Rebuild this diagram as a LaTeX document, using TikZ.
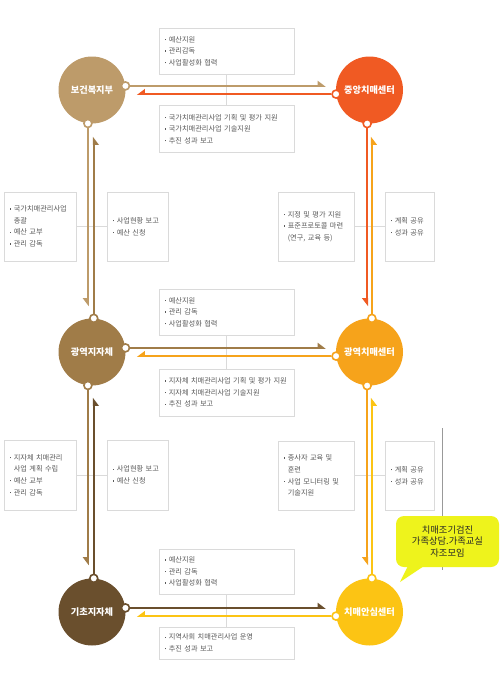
\documentclass[tikz,border=0pt]{standalone}
\usepackage{fontspec}
\setmainfont{Noto Sans CJK KR}
\usetikzlibrary{arrows.meta}
\definecolor{bokcol}{RGB}{189,155,106}
\definecolor{jungcol}{RGB}{240,90,35}
\definecolor{gwangjicol}{RGB}{160,124,72}
\definecolor{gwangchicol}{RGB}{246,163,27}
\definecolor{gichocol}{RGB}{106,79,45}
\definecolor{anshimcol}{RGB}{252,196,20}
\definecolor{boxcol}{RGB}{218,218,218}
\definecolor{txtcol}{RGB}{90,90,90}
\definecolor{memocol}{RGB}{238,243,28}
\newcommand\dotmark{\raisebox{0.28em}{\rule{1.3pt}{1.3pt}}\hspace{2.5pt}}
\newcommand\indentmark{\hspace{3.8pt}}
\begin{document}
\begin{tikzpicture}[x=1pt, y=-1pt,
    org/.style={circle, fill=#1, minimum size=67pt, inner sep=0pt, text=white,
      font=\fontsize{9.2}{11}\selectfont\bfseries},
    joint/.style={circle, fill=white, draw=#1, line width=1.6pt, minimum size=8pt, inner sep=0pt},
    infobox/.style 2 args={draw=boxcol, line width=0.7pt, fill=white, text=txtcol,
      align=left, inner xsep=6pt, inner ysep=0pt, text width=#1, minimum height=#2,
      font=\fontsize{7.2}{11.6}\selectfont},
    flow/.style={line width=2.2pt, draw=#1, -{Triangle[left, length=7pt, width=10pt]}},
    flowr/.style={line width=2.2pt, draw=#1, -{Triangle[right, length=7pt, width=10pt]}},
    link/.style={draw=boxcol, line width=0.7pt},
    memo/.style={fill=memocol, rounded corners=8pt, minimum width=103pt, minimum height=51pt,
      align=center, text=black!85, font=\fontsize{9.3}{11.5}\selectfont}]
    \fill[white] (0,0) rectangle (500,691);
    \useasboundingbox (0,0) rectangle (500,691);
    \node[org=bokcol] (bokji) at (92,90) {보건복지부};
    \node[org=jungcol] (jungang) at (369.5,90) {중앙치매센터};
    \node[org=gwangjicol] (gwangji) at (92,352) {광역지자체};
    \node[org=gwangchicol] (gwangchi) at (369.5,352) {광역치매센터};
    \node[org=gichocol] (gicho) at (92,612) {기초지자체};
    \node[org=anshimcol] (anshim) at (369.5,612) {치매안심센터};
    \node[infobox={123pt}{46pt}] (topup) at (226.5,51) {\dotmark 예산지원\\\dotmark 관리감독\\\dotmark 사업활성화 협력};
    \node[infobox={123pt}{47pt}] (topdown) at (226.5,129) {\dotmark 국가치매관리사업 기획 및 평가 지원\\\dotmark 국가치매관리사업 기술지원\\\dotmark 추진 성과 보고};
    \node[infobox={123pt}{46pt}] (midup) at (226.5,312) {\dotmark 예산지원\\\dotmark 관리 감독\\\dotmark 사업활성화 협력};
    \node[infobox={123pt}{47pt}] (middown) at (226.5,392.5) {\dotmark 지자체 치매관리사업 기획 및 평가 지원\\\dotmark 지자체 치매관리사업 기술지원\\\dotmark 추진 성과 보고};
    \node[infobox={123pt}{45pt}] (lowup) at (226.5,571.5) {\dotmark 예산지원\\\dotmark 관리 감독\\\dotmark 사업활성화 협력};
    \node[infobox={123pt}{32pt}] (lowdown) at (226.5,643) {\dotmark 지역사회 치매관리사업 운영\\\dotmark 추진 성과 보고};
    \node[infobox={60pt}{69pt}] (leftaout) at (40,226.5) {\dotmark 국가치매관리사업\\\indentmark 총괄\\\dotmark 예산 교부\\\dotmark 관리 감독};
    \node[infobox={49pt}{69pt}] (leftain) at (137.5,226.5) {\dotmark 사업현황 보고\\\dotmark 예산 신청};
    \node[infobox={60pt}{70pt}] (leftbout) at (40,475) {\dotmark 지자체 치매관리\\\indentmark 사업 계획 수립\\\dotmark 예산 교부\\\dotmark 관리 감독};
    \node[infobox={49pt}{70pt}] (leftbin) at (137.5,475) {\dotmark 사업현황 보고\\\dotmark 예산 신청};
    \node[infobox={64pt}{69pt}] (rightain) at (316,226.5) {\dotmark 지정 및 평가 지원\\\dotmark 표준프로토콜 마련\\\indentmark (연구, 교육 등)};
    \node[infobox={37pt}{69pt}] (rightaout) at (409.5,226.5) {\dotmark 계획 공유\\\dotmark 성과 공유};
    \node[infobox={64pt}{69pt}] (rightbin) at (316,475.5) {\dotmark 종사자 교육 및\\\indentmark 훈련\\\dotmark 사업 모니터링 및\\\indentmark 기술지원};
    \node[infobox={37pt}{69pt}] (rightbout) at (409.5,475.5) {\dotmark 계획 공유\\\dotmark 성과 공유};
    \draw[link] (topup) -- (topdown);
    \draw[link] (midup) -- (middown);
    \draw[link] (lowup) -- (lowdown);
    \draw[link] (leftaout) -- (leftain);
    \draw[link] (leftbout) -- (leftbin);
    \draw[link] (rightain) -- (rightaout);
    \draw[link] (rightbin) -- (rightbout);
    \node[joint=bokcol] (bokE) at (bokji.7) {};
    \node[joint=bokcol] (bokS) at (bokji.263) {};
    \node[joint=jungcol] (jungW) at (jungang.187) {};
    \node[joint=jungcol] (jungS) at (jungang.266) {};
    \node[joint=gwangjicol] (gjN) at (gwangji.87) {};
    \node[joint=gwangjicol] (gjE) at (gwangji.7) {};
    \node[joint=gwangjicol] (gjS) at (gwangji.263) {};
    \node[joint=gwangchicol] (gcN) at (gwangchi.86) {};
    \node[joint=gwangchicol] (gcW) at (gwangchi.187) {};
    \node[joint=gwangchicol] (gcS) at (gwangchi.266) {};
    \node[joint=gichocol] (giN) at (gicho.87) {};
    \node[joint=gichocol] (giE) at (gicho.7) {};
    \node[joint=anshimcol] (anN) at (anshim.86) {};
    \node[joint=anshimcol] (anW) at (anshim.187) {};
    \draw[flow=bokcol, shorten >=10pt] (bokE) -- (bokE -| jungang.west);
    \draw[flowr=jungcol, shorten >=11pt] (jungW) -- (jungW -| bokji.east);
    \draw[flowr=bokcol, shorten >=12pt] (bokS) -- (bokS |- gwangji.north);
    \draw[flowr=gwangjicol, shorten >=13pt] (gjN) -- (gjN |- bokji.south);
    \draw[flowr=jungcol, shorten >=12pt] (jungS) -- (jungS |- gwangchi.north);
    \draw[flowr=gwangchicol, shorten >=13pt] (gcN) -- (gcN |- jungang.south);
    \draw[flow=gwangjicol, shorten >=10pt] (gjE) -- (gjE -| gwangchi.west);
    \draw[flowr=gwangchicol, shorten >=11pt] (gcW) -- (gcW -| gwangji.east);
    \draw[flowr=gwangjicol, shorten >=13pt] (gjS) -- (gjS |- gicho.north);
    \draw[flowr=gichocol, shorten >=12pt] (giN) -- (giN |- gwangji.south);
    \draw[flowr=gwangchicol, shorten >=13pt] (gcS) -- (gcS |- anshim.north);
    \draw[flowr=anshimcol, shorten >=12pt] (anN) -- (anN |- gwangchi.south);
    \draw[flow=gichocol, shorten >=10pt] (giE) -- (giE -| anshim.west);
    \draw[flowr=anshimcol, shorten >=11pt] (anW) -- (anW -| gicho.east);
    \draw[black!40, line width=0.6pt] (442,428) -- (442,570);
    \node[memo] (memo) at (447.5,541.5) {치매조기검진\\가족상담.가족교실\\자조모임};
    \coordinate (memotip) at (400,582);
    \fill[memocol] ([xshift=12pt, yshift=1pt]memo.south west) -- ([xshift=28pt, yshift=1pt]memo.south west) -- (memotip) -- cycle;
\end{tikzpicture}
\end{document}
